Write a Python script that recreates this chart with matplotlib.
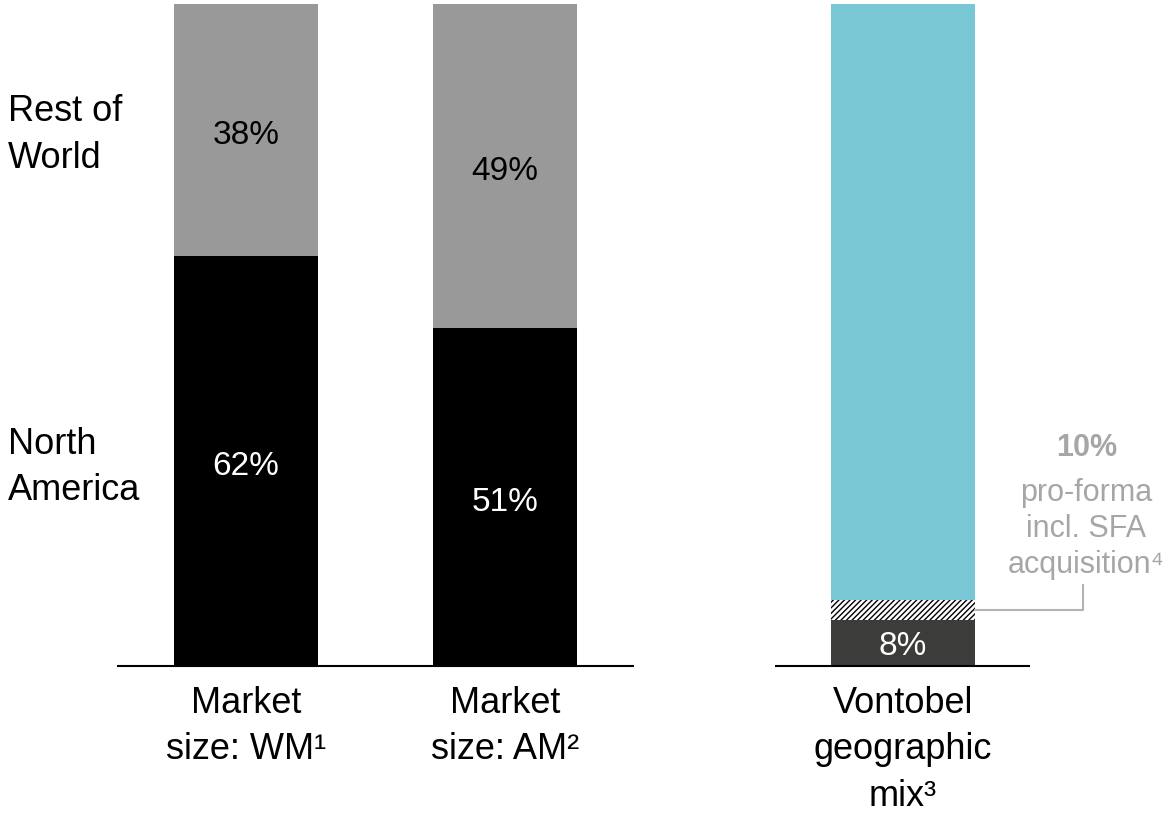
import matplotlib
matplotlib.use("Agg")
from matplotlib import pyplot as plt

plt.rcParams['font.family'] = ['Liberation Sans', 'DejaVu Sans']

# data
categories = ["Market\nsize: WM\u00b9", "Market\nsize: AM\u00b2", "Vontobel\ngeographic\nmix\u00b3"]
north_america = [62, 51]
rest_of_world = [38, 49]
vontobel_core = 7.0        # bar height as drawn
vontobel_sfa = 3.0         # hatched pro-forma add-on as drawn
vontobel_label = "8%"
proforma_label = "10%"
annotation_text = "pro-forma\nincl. SFA\nacquisition\u2074"
row_labels = ["Rest of\nWorld", "North\nAmerica"]

# layout
positions = [0, 1, 2.535]
bar_w = 0.556
grey = "#999999"
black = "#000000"
cyan = "#79c6d4"
dark = "#3c3d3a"
note_grey = "#a6a6a6"
nudge = 0.8   # optical centring of the % labels

fig = plt.figure(figsize=(11.68, 8.14), dpi=100)
ax = fig.add_axes([0, 0, 1, 1])
ax.set_xlim(-0.95, 3.56)
ax.set_ylim(-22.36, 100.6)
ax.axis('off')

# market size bars
for i in range(2):
    ax.bar(positions[i], north_america[i], width=bar_w, color=black, linewidth=0)
    ax.bar(positions[i], rest_of_world[i], bottom=north_america[i], width=bar_w,
           color=grey, linewidth=0)
    ax.text(positions[i], north_america[i] / 2 - nudge, f"{north_america[i]}%",
            color="white", ha="center", va="center", fontsize=24)
    ax.text(positions[i], north_america[i] + rest_of_world[i] / 2 - nudge,
            f"{rest_of_world[i]}%", color="black", ha="center", va="center", fontsize=24)

# vontobel bar
xv = positions[2]
ax.bar(xv, vontobel_core, width=bar_w, color=dark, linewidth=0)
ax.bar(xv, vontobel_sfa, bottom=vontobel_core, width=bar_w, color="white",
       edgecolor="black", hatch="//////", linewidth=0)
ax.bar(xv, 100 - vontobel_core - vontobel_sfa, bottom=vontobel_core + vontobel_sfa,
       width=bar_w, color=cyan, linewidth=0)
ax.text(xv, vontobel_core / 2 - 0.5, vontobel_label, color="white", ha="center",
        va="center", fontsize=24)

# baselines
ax.plot([-0.498, 1.498], [0, 0], color="black", lw=1.5, solid_capstyle="butt")
ax.plot([2.042, 3.027], [0, 0], color="black", lw=1.5, solid_capstyle="butt")

# category labels
for x, lab in zip(positions, categories):
    ax.text(x, -3.0, lab, ha="center", va="top", fontsize=26, linespacing=1.42)

# row labels
ax.text(-0.92, 80.2, row_labels[0], ha="left", va="center", fontsize=26, linespacing=1.42)
ax.text(-0.92, 30.0, row_labels[1], ha="left", va="center", fontsize=26, linespacing=1.42)

# pro-forma annotation
note_x = 3.245
ax.text(note_x, 13.0, annotation_text, ha="center", va="bottom", fontsize=22,
        color=note_grey, linespacing=1.26)
ax.text(note_x, 30.6, proforma_label, ha="center", va="bottom", fontsize=22,
        color=note_grey, fontweight="bold")
ax.plot([xv + bar_w / 2, 3.232, 3.232], [vontobel_core + vontobel_sfa / 2,
        vontobel_core + vontobel_sfa / 2, 12.2], color="#b3b3b3", lw=1.5)

fig.savefig("out.png", dpi=100)
